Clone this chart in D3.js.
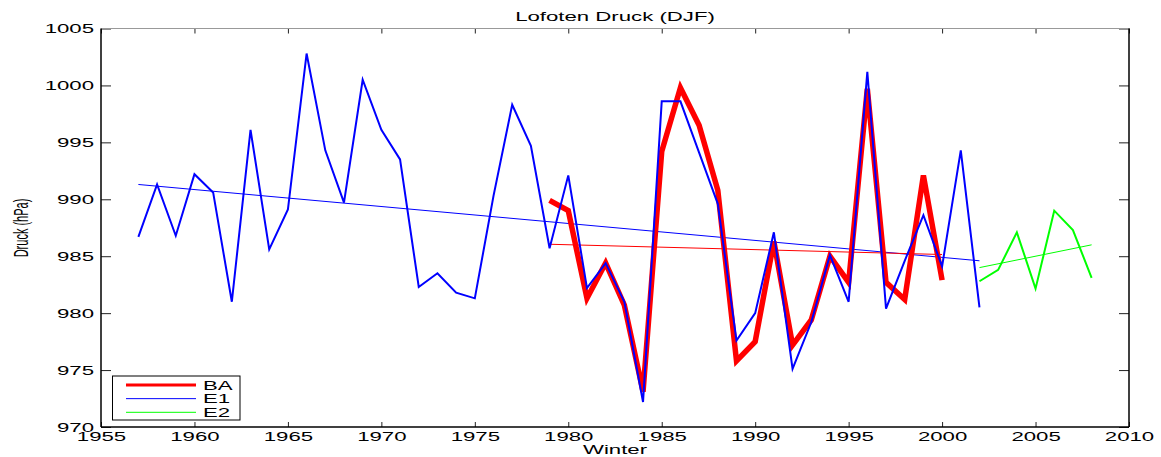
<!DOCTYPE html>
<html>
<head>
<meta charset="utf-8">
<script src="https://cdn.jsdelivr.net/npm/d3@7"></script>
<style>
  body { margin: 0; background: #fff; }
  text { font-family: "Liberation Sans", Arial, sans-serif; font-size: 12px; fill: #000; }
</style>
</head>
<body>
<script>
// chart size (same as the window)
var width = 1161;
var height = 457;

// data
var e1Years = d3.range(1957, 2003);
var e1Values = [986.7, 991.3, 986.8, 992.2, 990.6, 981.0, 996.1, 985.6, 989.1, 1002.8,
                994.3, 989.7, 1000.5, 996.1, 993.5, 982.3, 983.5, 981.8, 981.3, 990.3,
                998.3, 994.7, 985.7, 992.1, 982.2, 984.4, 981.0, 972.2, 998.6, 998.6,
                994.1, 989.6, 977.6, 980.0, 987.1, 975.1, 979.2, 985.1, 981.0, 1001.2,
                980.4, 984.6, 988.6, 984.1, 994.3, 980.5];
var baYears = d3.range(1979, 2001);
var baValues = [989.9, 989.0, 981.3, 984.4, 980.7, 973.1, 994.2, 999.8, 996.5, 990.8,
                975.8, 977.5, 986.3, 977.2, 979.4, 985.0, 982.7, 999.7, 982.7, 981.2,
                992.1, 982.9];
var e2Years = d3.range(2002, 2009);
var e2Values = [982.8, 983.8, 987.1, 982.15, 989.0, 987.3, 983.1];

// trend lines (start and end)
var e1TrendYears = [1957, 2002];
var e1TrendValues = [991.3, 984.6];
var baTrendYears = [1979, 2000];
var baTrendValues = [986.05, 985.15];
var e2TrendYears = [2002, 2008];
var e2TrendValues = [984.0, 986.0];

var xTicks = [1955, 1960, 1965, 1970, 1975, 1980, 1985, 1990, 1995, 2000, 2005, 2010];
var yTicks = [970, 975, 980, 985, 990, 995, 1000, 1005];
var legendNames = ['BA', 'E1', 'E2'];

// text in the picture is stretched sideways
var stretch = 1.85;

// plot box (window.top is taken, so other names)
var plotLeft = 101, plotRight = 1129, plotTop = 28.5, plotBottom = 427;

var svg = d3.select('body').append('svg')
  .attr('width', width)
  .attr('height', height);

var x = d3.scaleLinear().domain([1955, 2010]).range([plotLeft, plotRight]);
var y = d3.scaleLinear().domain([970, 1005]).range([plotBottom, plotTop]);

// axes, ticks pointing inwards
var gBottom = svg.append('g')
  .attr('transform', 'translate(0,' + plotBottom + ')')
  .call(d3.axisBottom(x).tickValues(xTicks).tickFormat(d3.format('d')).tickSizeInner(-5).tickSizeOuter(0));
gBottom.selectAll('text')
  .attr('y', 14).attr('dy', 0)
  .attr('transform', 'scale(' + stretch + ',1)');

var gLeft = svg.append('g')
  .attr('transform', 'translate(' + plotLeft + ',0)')
  .call(d3.axisLeft(y).tickValues(yTicks).tickFormat(d3.format('d')).tickSizeInner(-10).tickSizeOuter(0));
gLeft.selectAll('text')
  .attr('x', -7 / stretch).attr('dy', '0.34em')
  .attr('transform', 'scale(' + stretch + ',1)');

svg.append('g')
  .attr('transform', 'translate(0,' + plotTop + ')')
  .call(d3.axisTop(x).tickValues(xTicks).tickFormat('').tickSizeInner(-5).tickSizeOuter(0));
svg.append('g')
  .attr('transform', 'translate(' + plotRight + ',0)')
  .call(d3.axisRight(y).tickValues(yTicks).tickFormat('').tickSizeInner(-10).tickSizeOuter(0));

svg.selectAll('.domain').remove();
svg.selectAll('.tick line').attr('stroke', '#222');
svg.selectAll('.tick text').style('font-size', '12px').attr('fill', '#000');

// box round the plot
svg.append('line').attr('x1', plotLeft).attr('x2', plotRight).attr('y1', plotTop).attr('y2', plotTop)
  .attr('stroke', '#999').attr('stroke-width', 1);
svg.append('line').attr('x1', plotLeft).attr('x2', plotLeft).attr('y1', plotTop).attr('y2', plotBottom)
  .attr('stroke', '#000').attr('stroke-width', 1.5);
svg.append('line').attr('x1', plotRight).attr('x2', plotRight).attr('y1', plotTop).attr('y2', plotBottom)
  .attr('stroke', '#000').attr('stroke-width', 1.5);
svg.append('line').attr('x1', plotLeft).attr('x2', plotRight).attr('y1', plotBottom).attr('y2', plotBottom)
  .attr('stroke', '#000').attr('stroke-width', 1.5);

var line = d3.line()
  .x(function(d) { return x(d[0]); })
  .y(function(d) { return y(d[1]); });

var drawSeries = function(years, values, color, w) {
  svg.append('path')
    .datum(d3.zip(years, values))
    .attr('d', line)
    .attr('fill', 'none')
    .attr('stroke', color)
    .attr('stroke-width', w)
    .attr('stroke-linejoin', 'miter');
};

// trend lines
drawSeries(e1TrendYears, e1TrendValues, '#0000ff', 1);
drawSeries(baTrendYears, baTrendValues, '#ff0000', 1);
drawSeries(e2TrendYears, e2TrendValues, '#00ff00', 1);

// data lines
drawSeries(baYears, baValues, '#ff0000', 5.5);
drawSeries(e1Years, e1Values, '#0000ff', 2);
drawSeries(e2Years, e2Values, '#00ff00', 2);

// title and axis labels
svg.append('text')
  .attr('transform', 'translate(615,21) scale(' + stretch + ',1)')
  .attr('text-anchor', 'middle')
  .text('Lofoten Druck (DJF)');
svg.append('text')
  .attr('transform', 'translate(615,454) scale(' + stretch + ',1)')
  .attr('text-anchor', 'middle')
  .text('Winter');
svg.append('text')
  .attr('transform', 'translate(28,228) scale(' + stretch + ',1) rotate(-90)')
  .attr('text-anchor', 'middle')
  .style('font-size', '11px')
  .text('Druck (hPa)');

// legend
var legend = svg.append('g');
legend.append('rect')
  .attr('x', 112.5).attr('y', 376)
  .attr('width', 127.5).attr('height', 44)
  .attr('fill', '#fff').attr('stroke', '#000').attr('stroke-width', 1);
var legendColors = ['#ff0000', '#0000ff', '#00ff00'];
var legendWidths = [3, 1, 1];
var legendY = d3.scalePoint().domain(legendNames).range([385, 412.3]);
legendNames.forEach(function(name, i) {
  legend.append('line')
    .attr('x1', 126).attr('x2', 196)
    .attr('y1', legendY(name)).attr('y2', legendY(name))
    .attr('stroke', legendColors[i]).attr('stroke-width', legendWidths[i]);
  legend.append('text')
    .attr('transform', 'translate(203,' + (legendY(name) + 4.5) + ') scale(' + stretch + ',1)')
    .text(name);
});
</script>
</body>
</html>
